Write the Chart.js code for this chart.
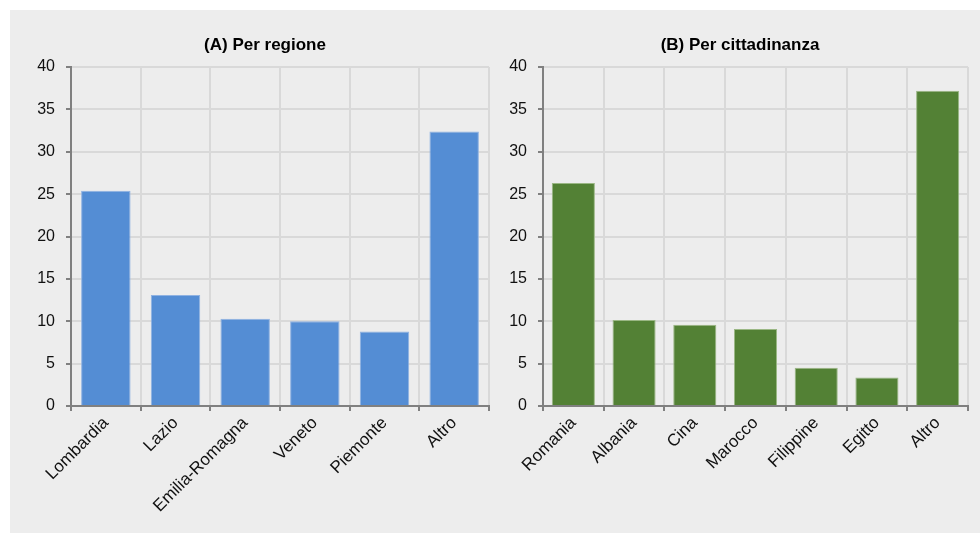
<!DOCTYPE html>
<html>
<head>
<meta charset="utf-8">
<script src="https://cdn.jsdelivr.net/npm/chart.js@4.4.1/dist/chart.umd.min.js"></script>
<style>
  body { margin: 0; background: #fff; }
  #panel { position: absolute; left: 10px; top: 10px; width: 970px; height: 523px; background: #ededed; }
  .box { position: absolute; top: 0; height: 523px; }
  #boxA { left: 0; width: 510px; }
  #boxB { left: 490px; width: 480px; }
</style>
</head>
<body>
<div id="panel">
  <div class="box" id="boxA"><canvas id="regione"></canvas></div>
  <div class="box" id="boxB"><canvas id="cittadinanza"></canvas></div>
</div>
<script>
// (A) per regione
const regioni = ['Lombardia', 'Lazio', 'Emilia-Romagna', 'Veneto', 'Piemonte', 'Altro'];
const valoriRegione = [25.4, 13.1, 10.3, 10.0, 8.8, 32.4];

// (B) per cittadinanza
const paesi = ['Romania', 'Albania', 'Cina', 'Marocco', 'Filippine', 'Egitto', 'Altro'];
const valoriPaese = [26.3, 10.15, 9.6, 9.1, 4.5, 3.35, 37.2];

const yMin = 0;
const yMax = 40;
const yStep = 5;

Chart.defaults.font.family = '"Liberation Sans", Arial, sans-serif';
Chart.defaults.color = '#111';

function makeConfig(labels, datas, title, fill, border, yWidth, padRight) {
  return {
    type: 'bar',
    data: {
      labels: labels,
      datasets: [
        {
          data: datas,
          backgroundColor: fill,
          borderColor: border,
          borderWidth: 1,
          borderSkipped: 'bottom',
          barPercentage: 0.71,
          categoryPercentage: 1,
        },
      ],
    },
    options: {
      responsive: true,
      maintainAspectRatio: false,
      animation: false,
      plugins: {
        legend: { display: false },
        tooltip: { enabled: false },
        title: {
          display: true,
          text: title,
          color: '#000',
          font: { size: 17, weight: 'bold' },
          padding: { top: 25, bottom: 11.6 }
        }
      },
      scales: {
        x: {
          grid: { color: '#d9d9d9', lineWidth: 2, tickColor: '#808080', tickLength: 5, offset: true },
          border: { color: '#808080', width: 2 },
          ticks: { font: { size: 17 }, color: '#111', maxRotation: 45, minRotation: 45, padding: 2 },
          afterFit: function(scale) { scale.height = 127; }
        },
        y: {
          min: yMin,
          max: yMax,
          grid: { color: '#d9d9d9', lineWidth: 2, tickColor: '#808080', tickLength: 5 },
          border: { color: '#808080', width: 2 },
          ticks: { stepSize: yStep, font: { size: 16 }, color: '#111', padding: 11 },
          afterFit: function(scale) { scale.width = yWidth; }
        },
        // empty right axis, only keeps space so the title stays centred on the whole box
        spacer: {
          position: 'right',
          min: yMin,
          max: yMax,
          grid: { display: false },
          border: { display: false },
          ticks: { display: false },
          afterFit: function(scale) { scale.width = padRight; }
        }
      }
    }
  }
}

const ctxRegione = document.getElementById('regione')
window.chartA = new Chart(ctxRegione, makeConfig(regioni, valoriRegione, '(A) Per regione', '#548dd4', '#8fb2e2', 61, 31));

const ctxCittadinanza = document.getElementById('cittadinanza')
window.chartB = new Chart(ctxCittadinanza, makeConfig(paesi, valoriPaese, '(B) Per cittadinanza', '#538135', '#9ab784', 43, 12));
</script>
</body>
</html>
